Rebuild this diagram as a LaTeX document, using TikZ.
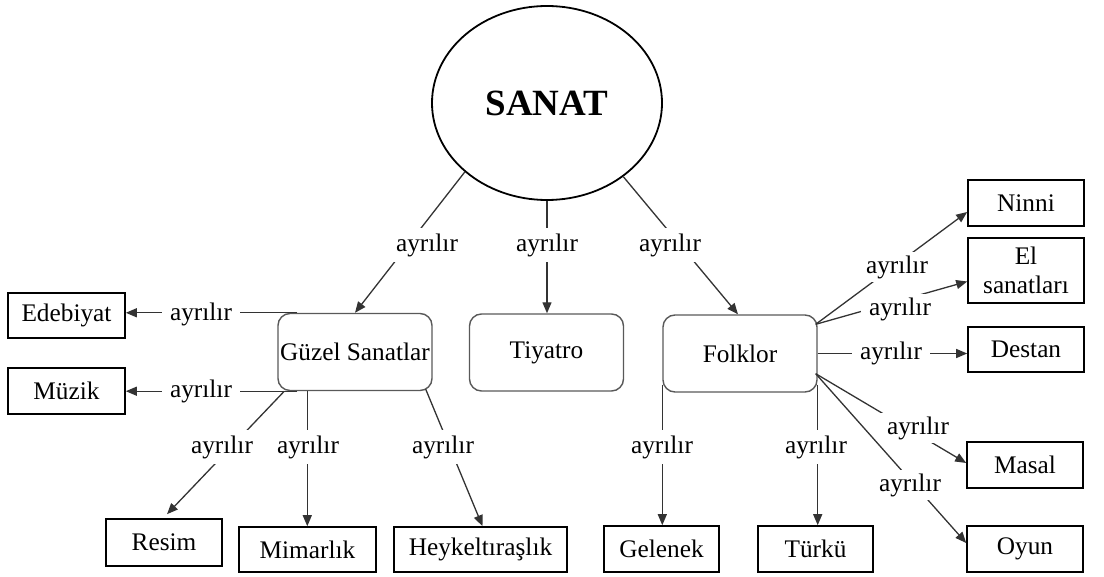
\documentclass[tikz,border=0pt]{standalone}
\usepackage{fontspec}
\setmainfont{Liberation Serif}
\usetikzlibrary{arrows.meta,shapes.geometric,calc}
\begin{document}
\begin{tikzpicture}[x=1pt,y=-1pt,
  every node/.style={font=\fontsize{25.3}{29}\selectfont},
  leaf/.style={draw=black,line width=1.6pt,inner sep=0pt,minimum width=116pt,minimum height=46pt},
  group/.style={draw=black!65,line width=1.4pt,rounded corners=12pt,inner sep=0pt,minimum width=154pt,minimum height=77pt},
  link/.style={draw=black!80,line width=1.3pt},
  arrowlink/.style={link,-{Triangle[length=11pt,width=9pt]}},
  lbl/.style={fill=white,inner xsep=8pt,inner ysep=5pt}]
\useasboundingbox (0,0) rectangle (1104,577);

% root
\node[draw=black,line width=1.8pt,ellipse,inner sep=0pt,minimum width=230pt,minimum height=194pt] (sanat) at (547,103) {\fontsize{37}{40}\selectfont\bfseries SANAT};

% main groups
\node[group] (gs)  at (355,352)   {Güzel Sanatlar};
\node[group] (tiy) at (546.5,352.5) {Tiyatro};
\node[group] (fo)  at (740,353.5) {Folklor};

% leaves of Güzel Sanatlar
\node[leaf,minimum width=117pt,minimum height=45pt] (ede) at (66.5,315.5) {Edebiyat};
\node[leaf,minimum width=117pt] (muz) at (66.5,391) {Müzik};
\node[leaf,minimum height=47pt] (res) at (164,542.5) {Resim};
\node[leaf,minimum width=137pt,minimum height=45pt] (mim) at (307.5,549.5) {Mimarlık};
\node[leaf,minimum width=173pt,minimum height=45pt] (hey) at (480.5,549.5) {Heykeltıraşlık};

% leaves of Folklor
\node[leaf,minimum width=115pt] (gel) at (661.5,549) {Gelenek};
\node[leaf,minimum width=115pt] (tur) at (815.5,549) {Türkü};
\node[leaf] (nin) at (1026,203) {Ninni};
\node[leaf,minimum height=65pt,align=center] (els) at (1026,270.5) {El\\sanatları};
\node[leaf,minimum height=45pt] (des) at (1026,349.5) {Destan};
\node[leaf] (mas) at (1025,465) {Masal};
\node[leaf] (oyu) at (1025,549) {Oyun};

% start points on the group boxes
\coordinate (gsTL) at ($(gs.north west)+(20,0)$);
\coordinate (gsBL) at ($(gs.south west)+(20,0)$);
\coordinate (gsR)  at ($(gs.south west)+(7,0)$);
\coordinate (gsM)  at ($(gs.south west)+(30,0)$);
\coordinate (gsH)  at ($(gs.south east)+(-7,-2)$);
\coordinate (foL)  at ($(fo.south west)+(0,-8)$);
\coordinate (foR)  at ($(fo.south east)+(0,-8)$);
\coordinate (foT)  at ($(fo.north east)+(-2,10)$);
\coordinate (foB)  at ($(fo.south east)+(-2,-19)$);

% connectors from the root
\draw[arrowlink] (sanat.220) -- (gs.north);
\draw[arrowlink] (sanat.south) -- (sanat.south |- tiy.north);
\draw[arrowlink] (sanat.316) -- ($(fo.north)+(-2,0)$);

% connectors from Güzel Sanatlar
\draw[arrowlink] (gsTL) -- (ede.east |- gs.north);
\draw[arrowlink] (gsBL) -- (muz.east |- gs.south);
\draw[arrowlink] (gsR) -- ($(res.north)+(3,-4)$);
\draw[arrowlink] (gsM) -- (gsM |- mim.north);
\draw[arrowlink] (gsH) -- ($(hey.north)+(2,0)$);

% connectors from Folklor
\draw[arrowlink] (foL) -- (foL |- gel.north);
\draw[arrowlink] (foR) -- (foR |- tur.north);
\draw[arrowlink] (foT) -- ($(nin.west)+(0,9)$);
\draw[arrowlink] (foT) -- ($(els.west)+(0,11)$);
\draw[arrowlink] (fo.east) -- (fo.east -| des.west);
\draw[arrowlink] (foB) -- ($(mas.west)+(0,-2)$);
\draw[arrowlink] (foB) -- ($(oyu.west)+(0,-6)$);

% labels
\node[lbl] (l1)  at (427,245) {ayrılır};
\node[lbl] (l2)  at (547,245) {ayrılır};
\node[lbl] (l3)  at (670,245) {ayrılır};
\node[lbl] (l4)  at (201,314) {ayrılır};
\node[lbl] (l5)  at (201,391) {ayrılır};
\node[lbl] (l6)  at (222,447) {ayrılır};
\node[lbl] (l7)  at (308,447) {ayrılır};
\node[lbl] (l8)  at (443,447) {ayrılır};
\node[lbl] (l9)  at (662,447) {ayrılır};
\node[lbl] (l10) at (816,447) {ayrılır};
\node[lbl,inner ysep=3pt] (l11) at (897,267) {ayrılır};
\node[lbl,inner ysep=3pt] (l12) at (900,309) {ayrılır};
\node[lbl] (l13) at (891,353) {ayrılır};
\node[lbl,inner ysep=3pt] (l14) at (918,428) {ayrılır};
\node[lbl,inner ysep=3pt] (l15) at (910,485) {ayrılır};
\end{tikzpicture}
\end{document}
